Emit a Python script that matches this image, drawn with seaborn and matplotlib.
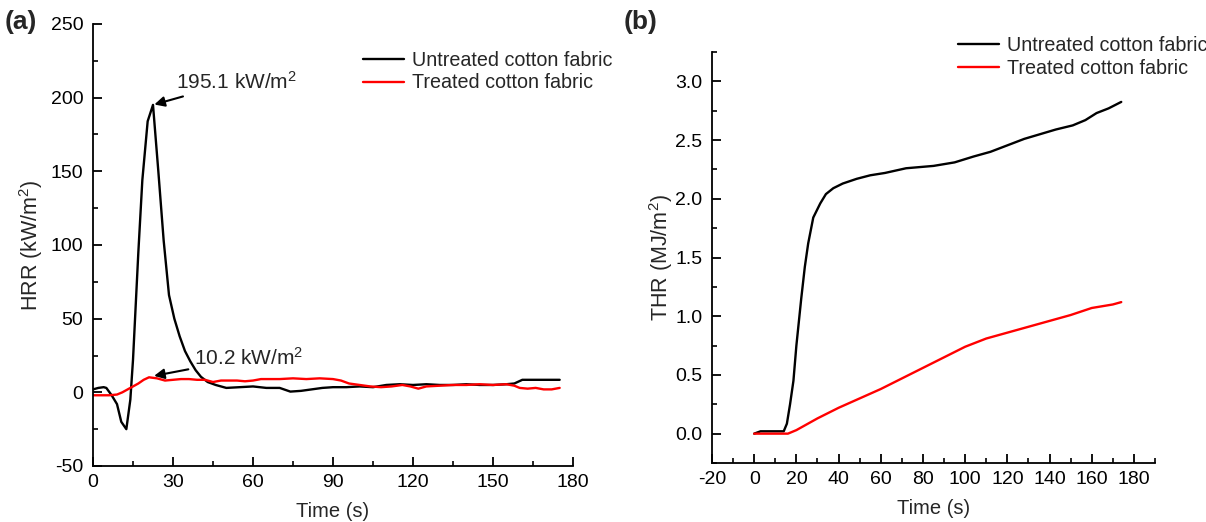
import numpy as np
import pandas as pd
import matplotlib
matplotlib.use("Agg")
import matplotlib.pyplot as plt
from matplotlib.ticker import MultipleLocator
import seaborn as sns

# ---------------- data ----------------
hrr_untreated_t = [0, 2, 4, 5, 7, 9, 10.6, 12.5, 14, 15, 17, 18.5, 20.5, 22.5, 24.5, 26.5,
                   28.5, 30.5, 32.5, 34.5, 36.5, 38.5, 40.5, 43, 46, 50, 55, 60, 65, 70,
                   74, 78, 82, 86, 90, 95, 100, 105, 110, 115, 120, 125, 130, 135, 140,
                   145, 150, 155, 158, 161, 165, 170, 175]
hrr_untreated_v = [2, 3, 3.5, 3, -2, -8, -20, -25, -5, 22, 95, 144, 184, 195.1, 150, 103,
                   66, 50, 38, 28, 21, 15, 10.5, 7, 5, 3, 3.5, 4, 3, 3,
                   0.5, 1, 2, 3, 3.5, 3.5, 4, 3.5, 5, 5.5, 5, 5.5, 5, 5, 5.5,
                   5, 5, 5.5, 6, 8.5, 8.5, 8.5, 8.5]

hrr_treated_t = [0, 3, 6, 9, 11, 13, 15, 17, 19, 21, 24, 27, 30, 33, 36, 39, 42, 45, 48,
                 51, 54, 57, 60, 63, 66, 70, 75, 80, 85, 90, 93, 96, 100, 104, 108, 112,
                 116, 119, 122, 125, 130, 135, 140, 145, 150, 155, 158, 160, 163, 166,
                 169, 172, 175]
hrr_treated_v = [-2, -2, -2, -1.5, 0, 2, 4, 6, 8.5, 10.2, 9.5, 8, 8.5, 9, 9, 8.5, 8.5, 7,
                 8, 8, 8, 7.5, 8, 9, 9, 9, 9.5, 9, 9.5, 9, 8, 6, 5, 4, 3.5, 4,
                 5, 4, 2.5, 4, 4.5, 5, 5, 5.5, 5, 5.5, 4.5, 3, 2.5, 3,
                 2, 2, 3]

thr_untreated_t = [0, 3, 6, 10, 14, 15.5, 17, 18.6, 20, 22.3, 24, 25.6, 28, 31.3, 34,
                   37.5, 42, 48.6, 55, 62, 72, 85, 95, 104, 112, 120, 128, 135.5, 143,
                   151, 157, 162.3, 168, 174]
thr_untreated_v = [0.0, 0.02, 0.02, 0.02, 0.02, 0.085, 0.25, 0.45, 0.75, 1.15, 1.42, 1.62,
                   1.84, 1.96, 2.04, 2.09, 2.13, 2.17, 2.20, 2.22, 2.26, 2.28, 2.31, 2.36,
                   2.40, 2.455, 2.51, 2.55, 2.59, 2.625, 2.67, 2.73, 2.77, 2.825]

thr_treated_t = [0, 5, 10, 16, 20, 25, 30, 40, 50, 60, 70, 80, 90, 100, 110, 120, 130,
                 140, 150, 160, 170, 174]
thr_treated_v = [0.0, 0.0, 0.0, 0.0, 0.03, 0.08, 0.13, 0.22, 0.30, 0.38, 0.47, 0.56,
                 0.65, 0.74, 0.81, 0.86, 0.91, 0.96, 1.01, 1.07, 1.10, 1.12]

series_names = ["Untreated cotton fabric", "Treated cotton fabric"]
series_colors = ["#000000", "#ff0000"]

hrr_df = pd.concat([
    pd.DataFrame({"Time": hrr_untreated_t, "Value": hrr_untreated_v, "Sample": series_names[0]}),
    pd.DataFrame({"Time": hrr_treated_t, "Value": hrr_treated_v, "Sample": series_names[1]}),
])
thr_df = pd.concat([
    pd.DataFrame({"Time": thr_untreated_t, "Value": thr_untreated_v, "Sample": series_names[0]}),
    pd.DataFrame({"Time": thr_treated_t, "Value": thr_treated_v, "Sample": series_names[1]}),
])

# ---------------- style ----------------
sns.set_theme(style="white")
plt.rcParams["font.family"] = ["Liberation Sans", "DejaVu Sans"]
plt.rcParams["mathtext.fontset"] = "custom"
plt.rcParams["mathtext.rm"] = "Liberation Sans"
plt.rcParams["mathtext.it"] = "Liberation Sans:italic"
plt.rcParams["mathtext.bf"] = "Liberation Sans:bold"
plt.rcParams["axes.unicode_minus"] = False

fig = plt.figure(figsize=(12.06, 5.22), dpi=100)
ax1 = fig.add_axes([93 / 1206, 1 - 466 / 522, 480 / 1206, 442 / 522])
ax2 = fig.add_axes([712 / 1206, 1 - 463 / 522, 443 / 1206, 411 / 522])

palette = dict(zip(series_names, series_colors))

for ax, df in ((ax1, hrr_df), (ax2, thr_df)):
    sns.lineplot(data=df, x="Time", y="Value", hue="Sample", palette=palette,
                 estimator=None, sort=False, linewidth=1.7, ax=ax)
    for side in ("top", "right"):
        ax.spines[side].set_visible(False)
    for side in ("left", "bottom"):
        ax.spines[side].set_linewidth(1.3)
        ax.spines[side].set_color("black")
    ax.tick_params(which="major", direction="in", length=6.5, width=1.3,
                   labelsize=14, colors="black", left=True, bottom=True)
    ax.tick_params(axis="x", which="major", pad=6)
    ax.tick_params(axis="y", which="major", pad=7)
    ax.tick_params(which="minor", direction="in", length=3.5, width=1.2,
                   colors="black", left=True, bottom=True)
    leg = ax.legend(frameon=False, fontsize=14.2, handlelength=2.1,
                    handletextpad=0.4, labelspacing=0.2, borderpad=0,
                    borderaxespad=0, loc="upper left")
    for line in leg.get_lines():
        line.set_linewidth(1.7)

# panel (a)
ax1.set_xlim(0, 180)
ax1.set_ylim(-50, 250)
ax1.xaxis.set_major_locator(MultipleLocator(30))
ax1.xaxis.set_minor_locator(MultipleLocator(15))
ax1.yaxis.set_major_locator(MultipleLocator(50))
ax1.yaxis.set_minor_locator(MultipleLocator(25))
ax1.set_xlabel("Time (s)", fontsize=14.5, labelpad=8)
ax1.set_ylabel("HRR (kW/m$^2$)", fontsize=15.5, labelpad=4)
ax1.legend_.set_bbox_to_anchor((0.5625, 0.94))
ax1.annotate("195.1 kW/m$^2$", xy=(22.5, 195.1), xytext=(31.0, 211),
             fontsize=15, va="center", ha="left",
             arrowprops=dict(arrowstyle="-|>", color="black", lw=1.5,
                             mutation_scale=15, shrinkA=2, shrinkB=1))
ax1.annotate("10.2 kW/m$^2$", xy=(22.4, 11), xytext=(38.0, 23.5),
             fontsize=15, va="center", ha="left",
             arrowprops=dict(arrowstyle="-|>", color="black", lw=1.5,
                             mutation_scale=15, shrinkA=2, shrinkB=1))

# panel (b)
ax2.set_xlim(-20, 190)
ax2.set_ylim(-0.25, 3.25)
ax2.xaxis.set_major_locator(MultipleLocator(20))
ax2.xaxis.set_minor_locator(MultipleLocator(10))
ax2.yaxis.set_major_locator(MultipleLocator(0.5))
ax2.yaxis.set_minor_locator(MultipleLocator(0.25))
ax2.set_xlabel("Time (s)", fontsize=14.5, labelpad=8)
ax2.set_ylabel("THR (MJ/m$^2$)", fontsize=15.5, labelpad=0)
ax2.legend_.set_bbox_to_anchor((0.555, 1.038))

fig.text(5 / 1206, 1 - 22 / 522, "(a)", fontsize=19, fontweight="bold", va="center", ha="left")
fig.text(624 / 1206, 1 - 22 / 522, "(b)", fontsize=19, fontweight="bold", va="center", ha="left")

fig.savefig("out.png", dpi=100)
